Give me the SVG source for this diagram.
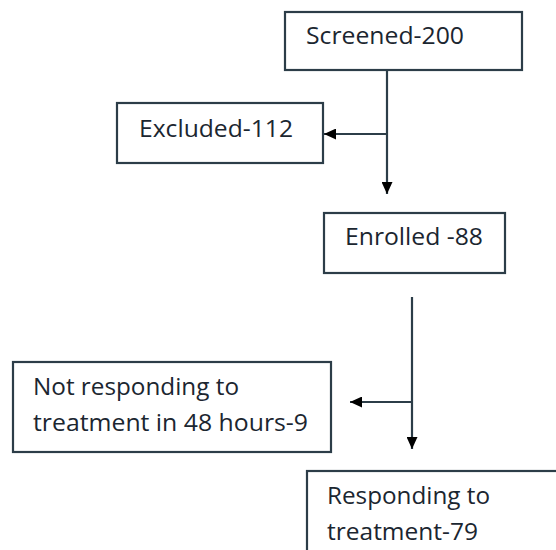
<svg xmlns="http://www.w3.org/2000/svg" width="556" height="550" viewBox="0 0 556 550">
<style>
.box{fill:#ffffff;stroke:#2c3d48;stroke-width:2.2}
.lbl{font-family:"Open Sans","Noto Sans",sans-serif;font-size:23.5px;fill:#1b2630}
.conn{stroke:#2c3d48;stroke-width:2.2;fill:none}
</style>
<defs>
<marker id="ah" viewBox="0 0 12 11" refX="12" refY="5.5" markerWidth="12" markerHeight="11" markerUnits="userSpaceOnUse" orient="auto">
<path d="M0,0 L12,5.5 L0,11 Z" fill="#000000"/>
</marker>
</defs>
<rect width="556" height="550" fill="#ffffff"/>
<g id="connectors">
<line class="conn" x1="387" y1="70" x2="387" y2="194" marker-end="url(#ah)"/>
<line class="conn" x1="387" y1="134" x2="324" y2="134" marker-end="url(#ah)"/>
<line class="conn" x1="412" y1="297" x2="412" y2="449" marker-end="url(#ah)"/>
<line class="conn" x1="412" y1="402" x2="350" y2="402" marker-end="url(#ah)"/>
</g>
<g id="screened">
<rect class="box" x="285" y="12" width="237" height="58"/>
<text class="lbl" x="306" y="44" textLength="158" lengthAdjust="spacingAndGlyphs">Screened-200</text>
</g>
<g id="excluded">
<rect class="box" x="117" y="103" width="206" height="60"/>
<text class="lbl" x="139" y="137" textLength="154" lengthAdjust="spacingAndGlyphs">Excluded-112</text>
</g>
<g id="enrolled">
<rect class="box" x="324" y="213" width="181" height="60"/>
<text class="lbl" x="345" y="245" textLength="138" lengthAdjust="spacingAndGlyphs">Enrolled -88</text>
</g>
<g id="not-responding">
<rect class="box" x="13" y="362" width="318" height="90"/>
<text class="lbl" x="33" y="395" textLength="206" lengthAdjust="spacingAndGlyphs">Not responding to</text>
<text class="lbl" x="33" y="431" textLength="275" lengthAdjust="spacingAndGlyphs">treatment in 48 hours-9</text>
</g>
<g id="responding">
<rect class="box" x="307" y="471" width="270" height="100"/>
<text class="lbl" x="327" y="504" textLength="163" lengthAdjust="spacingAndGlyphs">Responding to</text>
<text class="lbl" x="327" y="540" textLength="151" lengthAdjust="spacingAndGlyphs">treatment-79</text>
</g>
</svg>
